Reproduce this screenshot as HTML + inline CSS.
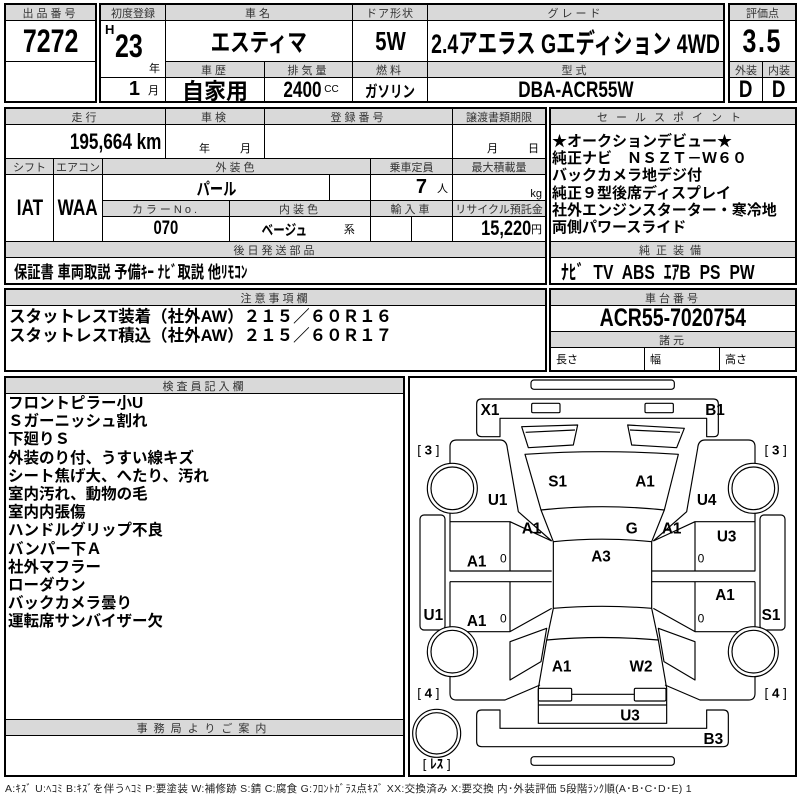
<!DOCTYPE html>
<html><head><meta charset="utf-8">
<style>
body{margin:0;width:800px;height:800px;background:#fff;position:relative;overflow:hidden;font-family:"Liberation Sans","Noto Sans CJK JP",sans-serif;}
.c{position:absolute;box-sizing:border-box;border:1px solid #000;display:flex;align-items:center;justify-content:center;white-space:nowrap;color:#000;}
.h{background:#d9d9d9;font-size:11px;color:#333;letter-spacing:3px;}
.o{position:absolute;box-sizing:border-box;border:2px solid #000;}
.b{font-weight:bold;font-family:"Liberation Sans Narrow","Liberation Sans","Noto Sans CJK JP",sans-serif;}
.t{position:absolute;white-space:nowrap;font-weight:bold;}
.n{display:inline-block;transform:scaleX(.78);}
.nl{display:inline-block;transform:scaleX(.78);transform-origin:left center;}
.nr{display:inline-block;transform:scaleX(.78);transform-origin:right center;}
</style></head><body>

<div class="c h" style="left:5px;top:4px;width:91px;height:17px">出品番号</div>
<div class="c b" style="left:5px;top:20px;width:91px;height:42px;font-size:32px;"><span class="n">7272</span></div>
<div class="c" style="left:5px;top:61px;width:91px;height:41px"></div>
<div class="o" style="left:4px;top:3px;width:93px;height:100px"></div>

<div class="c h" style="left:100px;top:4px;width:66px;height:17px;letter-spacing:0">初度登録</div>
<div class="c h" style="left:165px;top:4px;width:188px;height:17px">車名</div>
<div class="c h" style="left:352px;top:4px;width:76px;height:17px;letter-spacing:1px">ドア形状</div>
<div class="c h" style="left:427px;top:4px;width:297px;height:17px">グレード</div>
<div class="c" style="left:100px;top:20px;width:66px;height:58px"></div>
<div class="t b" style="left:105px;top:22px;font-size:13px">H</div>
<div class="t b" style="left:115px;top:28px;font-size:32px"><span class="nl">23</span></div>
<div class="t" style="left:149px;top:60px;font-size:11px;font-weight:normal">年</div>
<div class="c" style="left:100px;top:77px;width:66px;height:25px;justify-content:flex-end;padding-right:6px"><span class="b" style="font-size:20px">1</span><span style="font-size:11px;margin-left:8px">月</span></div>
<div class="c b" style="left:165px;top:20px;width:188px;height:42px;font-size:25px"><span class="n">エスティマ</span></div>
<div class="c b" style="left:352px;top:20px;width:76px;height:42px;font-size:26px"><span class="n">5W</span></div>
<div class="c b" style="left:427px;top:20px;width:297px;height:42px;font-size:27px;"><span class="n" style="transform:scaleX(.72)">2.4アエラス Gエディション 4WD</span></div>
<div class="c h" style="left:165px;top:61px;width:100px;height:17px">車歴</div>
<div class="c h" style="left:264px;top:61px;width:89px;height:17px">排気量</div>
<div class="c h" style="left:352px;top:61px;width:76px;height:17px">燃料</div>
<div class="c h" style="left:427px;top:61px;width:297px;height:17px">型式</div>
<div class="c b" style="left:165px;top:77px;width:100px;height:25px;font-size:22px">自家用</div>
<div class="c" style="left:264px;top:77px;width:89px;height:25px"><span class="b n" style="font-size:22px;margin-right:-6px">2400</span><span style="font-size:10px;margin-left:3px">CC</span></div>
<div class="c b" style="left:352px;top:77px;width:76px;height:25px;font-size:16px"><span class="n">ガソリン</span></div>
<div class="c b" style="left:427px;top:77px;width:297px;height:25px;font-size:22px"><span class="n">DBA-ACR55W</span></div>
<div class="o" style="left:99px;top:3px;width:626px;height:100px"></div>

<div class="c h" style="left:729px;top:4px;width:67px;height:17px;letter-spacing:0">評価点</div>
<div class="c b" style="left:729px;top:20px;width:67px;height:42px;font-size:32px;letter-spacing:2px"><span class="n">3.5</span></div>
<div class="c h" style="left:729px;top:61px;width:34px;height:17px;letter-spacing:0">外装</div>
<div class="c h" style="left:762px;top:61px;width:34px;height:17px;letter-spacing:0">内装</div>
<div class="c b" style="left:729px;top:77px;width:34px;height:25px;font-size:24px"><span class="n">D</span></div>
<div class="c b" style="left:762px;top:77px;width:34px;height:25px;font-size:24px"><span class="n">D</span></div>
<div class="o" style="left:728px;top:3px;width:69px;height:100px"></div>

<div class="c h" style="left:5px;top:108px;width:161px;height:17px">走行</div>
<div class="c h" style="left:165px;top:108px;width:100px;height:17px">車検</div>
<div class="c h" style="left:264px;top:108px;width:189px;height:17px">登録番号</div>
<div class="c h" style="left:452px;top:108px;width:94px;height:17px;letter-spacing:0">譲渡書類期限</div>
<div class="c" style="left:5px;top:124px;width:161px;height:35px;justify-content:flex-end;padding-right:4px"><span class="b nr" style="font-size:22px">195,664 km</span></div>
<div class="c" style="left:165px;top:124px;width:100px;height:35px;align-items:flex-end;font-size:11px;padding-bottom:2px"><span style="margin-left:20px">年</span><span style="margin-left:30px">月</span></div>
<div class="c" style="left:264px;top:124px;width:189px;height:35px"></div>
<div class="c" style="left:452px;top:124px;width:94px;height:35px;align-items:flex-end;justify-content:flex-end;font-size:11px;padding:0 6px 2px 0">月<span style="margin-left:30px">日</span></div>
<div class="c h" style="left:5px;top:158px;width:49px;height:17px;letter-spacing:0">シフト</div>
<div class="c h" style="left:53px;top:158px;width:50px;height:17px;letter-spacing:0">エアコン</div>
<div class="c h" style="left:102px;top:158px;width:269px;height:17px">外装色</div>
<div class="c h" style="left:370px;top:158px;width:83px;height:17px;letter-spacing:0">乗車定員</div>
<div class="c h" style="left:452px;top:158px;width:94px;height:17px;letter-spacing:0">最大積載量</div>
<div class="c b" style="left:5px;top:174px;width:49px;height:68px;font-size:22px"><span class="n">IAT</span></div>
<div class="c b" style="left:53px;top:174px;width:50px;height:68px;font-size:22px"><span class="n">WAA</span></div>
<div class="c b" style="left:102px;top:174px;width:228px;height:27px;font-size:17px"><span class="n">パール</span></div>
<div class="c" style="left:329px;top:174px;width:42px;height:27px"></div>
<div class="c" style="left:370px;top:174px;width:83px;height:27px;justify-content:flex-end;padding-right:4px"><span class="b" style="font-size:20px">7</span><span style="font-size:11px;margin-left:10px">人</span></div>
<div class="c" style="left:452px;top:174px;width:94px;height:27px;justify-content:flex-end;padding-right:3px;font-size:11px;align-items:flex-end">kg</div>
<div class="c h" style="left:102px;top:200px;width:128px;height:17px">カラーNo.</div>
<div class="c h" style="left:229px;top:200px;width:142px;height:17px">内装色</div>
<div class="c h" style="left:370px;top:200px;width:83px;height:17px">輸入車</div>
<div class="c h" style="left:452px;top:200px;width:94px;height:17px;letter-spacing:0">リサイクル預託金</div>
<div class="c b" style="left:102px;top:216px;width:128px;height:26px;font-size:19px"><span class="n">070</span></div>
<div class="c" style="left:229px;top:216px;width:142px;height:26px"><span class="b n" style="font-size:15px;margin-left:10px">ベージュ</span><span style="font-size:11px;margin-left:30px">系</span></div>
<div class="c" style="left:370px;top:216px;width:42px;height:26px"></div>
<div class="c" style="left:411px;top:216px;width:42px;height:26px"></div>
<div class="c" style="left:452px;top:216px;width:94px;height:26px;justify-content:flex-end;padding-right:3px"><span class="b nr" style="font-size:21px">15,220</span><span style="font-size:11px">円</span></div>
<div class="c h" style="left:5px;top:241px;width:541px;height:17px">後日発送部品</div>
<div class="c b" style="left:5px;top:257px;width:541px;height:27px;font-size:17px;justify-content:flex-start;padding-left:8px"><span class="nl">保証書 車両取説 予備ｷｰ ﾅﾋﾞ取説 他ﾘﾓｺﾝ</span></div>
<div class="o" style="left:4px;top:107px;width:543px;height:178px"></div>

<div class="c h" style="left:550px;top:108px;width:246px;height:17px;letter-spacing:8px">セールスポイント</div>
<div class="c" style="left:550px;top:124px;width:246px;height:118px"></div>
<div class="t" style="left:552px;top:133px;font-size:15px;line-height:17.2px">★オークションデビュー★<br>純正ナビ　ＮＳＺＴ－Ｗ６０<br>バックカメラ地デジ付<br>純正９型後席ディスプレイ<br>社外エンジンスターター・寒冷地<br>両側パワースライド</div>
<div class="c h" style="left:550px;top:241px;width:246px;height:17px;letter-spacing:6px">純正装備</div>
<div class="c b" style="left:550px;top:257px;width:246px;height:27px;font-size:20px;justify-content:flex-start;padding-left:10px;word-spacing:6px"><span class="nl">ﾅﾋﾞ TV ABS ｴｱB PS PW</span></div>
<div class="o" style="left:549px;top:107px;width:248px;height:178px"></div>

<div class="c h" style="left:5px;top:289px;width:541px;height:17px">注意事項欄</div>
<div class="c" style="left:5px;top:305px;width:541px;height:66px"></div>
<div class="t" style="left:9px;top:308px;font-size:16.5px;line-height:19px;">スタットレスT装着（社外AW）２１５／６０Ｒ１６<br>スタットレスT積込（社外AW）２１５／６０Ｒ１７</div>
<div class="o" style="left:4px;top:288px;width:543px;height:84px"></div>

<div class="c h" style="left:550px;top:289px;width:246px;height:17px">車台番号</div>
<div class="c b" style="left:550px;top:305px;width:246px;height:27px;font-size:25px"><span class="n">ACR55-7020754</span></div>
<div class="c h" style="left:550px;top:331px;width:246px;height:17px">諸元</div>
<div class="c" style="left:550px;top:347px;width:95px;height:24px;justify-content:flex-start;padding-left:5px;font-size:11px">長さ</div>
<div class="c" style="left:644px;top:347px;width:76px;height:24px;justify-content:flex-start;padding-left:5px;font-size:11px">幅</div>
<div class="c" style="left:719px;top:347px;width:77px;height:24px;justify-content:flex-start;padding-left:5px;font-size:11px">高さ</div>
<div class="o" style="left:549px;top:288px;width:248px;height:84px"></div>

<div class="c h" style="left:5px;top:377px;width:399px;height:17px">検査員記入欄</div>
<div class="c" style="left:5px;top:393px;width:399px;height:327px"></div>
<div class="t" style="left:8px;top:395px;font-size:15.5px;line-height:18.2px">フロントピラー小U<br>Ｓガーニッシュ割れ<br>下廻りＳ<br>外装のり付、うすい線キズ<br>シート焦げ大、へたり、汚れ<br>室内汚れ、動物の毛<br>室内内張傷<br>ハンドルグリップ不良<br>バンパー下Ａ<br>社外マフラー<br>ローダウン<br>バックカメラ曇り<br>運転席サンバイザー欠</div>
<div class="c h" style="left:5px;top:719px;width:399px;height:17px;letter-spacing:6px">事務局よりご案内</div>
<div class="c" style="left:5px;top:735px;width:399px;height:41px"></div>
<div class="o" style="left:4px;top:376px;width:401px;height:401px"></div>

<div class="o" style="left:408px;top:376px;width:389px;height:401px"></div>
<svg style="position:absolute;left:405px;top:375px" width="395" height="420" viewBox="0 0 1185 1260">
<g fill="none" stroke="#000" stroke-width="3.5" stroke-linejoin="round">
<rect x="378" y="15" width="430" height="28" rx="9"/>
<rect x="378" y="1145" width="430" height="26" rx="9"/>
<path d="M230,72 L925,72 Q940,72 940,87 L940,172 Q940,185 927,185 L905,185 L905,130 L285,130 L285,185 L230,185 Q215,185 215,170 L215,87 Q215,72 230,72 Z"/>
<rect x="380" y="85" width="85" height="28" rx="4"/>
<rect x="720" y="85" width="85" height="28" rx="4"/>
<path d="M350,155 L518,150 L505,210 L370,218 Z M362,172 L510,165"/>
<path d="M668,150 L838,160 L815,218 L680,210 Z M675,165 L825,172"/>
<path d="M360,238 Q590,222 820,238 L778,405 Q590,385 408,405 Z"/>
<path d="M408,405 L445,500 Q590,485 740,500 L778,405"/>
<path d="M445,500 L445,700 Q590,688 740,700 L740,500"/>
<path d="M445,700 L425,795 Q590,780 760,795 L740,700"/>
<path d="M425,795 L400,940 L400,1045 L785,1045 L785,940 L760,795"/>
<rect x="400" y="940" width="100" height="38" rx="4"/>
<rect x="688" y="940" width="95" height="38" rx="4"/>
<path d="M500,958 L688,958 M400,990 L785,990"/>
<path d="M230,1005 L285,1005 L285,1060 L905,1060 L905,1005 L955,1005 Q970,1005 970,1020 L970,1100 Q970,1115 955,1115 L230,1115 Q215,1115 215,1100 L215,1020 Q215,1005 230,1005 Z"/>
<path d="M135,272 L135,215 Q135,195 155,195 L285,195 Q305,195 307,220 L340,410 L440,498"/>
<path d="M135,410 L135,440 L315,440 L440,498 M315,440 L315,588 M135,440 L135,588 L440,588 M135,620 L440,620 M135,620 L135,770 L315,770 L440,700 M315,620 L315,770"/>
<rect x="45" y="420" width="75" height="345" rx="12"/>
<path d="M135,900 L135,955 Q135,975 155,975 L300,975 L405,930"/>
<path d="M315,800 L425,760 L408,860 L315,915 Z"/>
<path d="M1050,272 L1050,215 Q1050,195 1030,195 L900,195 Q880,195 878,220 L845,410 L745,498"/>
<path d="M1050,410 L1050,440 L870,440 L745,498 M870,440 L870,588 M1050,440 L1050,588 L740,588 M1050,620 L740,620 M1050,620 L1050,770 L870,770 L745,700 M870,620 L870,770"/>
<rect x="1065" y="420" width="75" height="345" rx="12"/>
<path d="M1050,900 L1050,955 Q1050,975 1030,975 L885,975 L780,930"/>
<path d="M870,800 L760,760 L777,860 L870,915 Z"/>
<circle cx="142" cy="340" r="75" fill="#fff"/><circle cx="142" cy="340" r="64"/>
<circle cx="142" cy="830" r="75" fill="#fff"/><circle cx="142" cy="830" r="64"/>
<circle cx="1045" cy="340" r="75" fill="#fff"/><circle cx="1045" cy="340" r="64"/>
<circle cx="1045" cy="830" r="75" fill="#fff"/><circle cx="1045" cy="830" r="64"/>
<circle cx="95" cy="1075" r="72"/><circle cx="95" cy="1075" r="62"/>
</g>
<g font-family="Liberation Sans, sans-serif" font-weight="bold" font-size="46" text-anchor="middle" fill="#000">
<text x="255" y="120">X1</text><text x="930" y="120">B1</text>
<text x="458" y="335">S1</text><text x="720" y="335">A1</text>
<text x="278" y="390">U1</text><text x="905" y="390">U4</text>
<text x="380" y="475">A1</text><text x="680" y="475">G</text><text x="800" y="475">A1</text>
<text x="965" y="500">U3</text>
<text x="215" y="575">A1</text><text x="588" y="560">A3</text>
<text x="960" y="675">A1</text>
<text x="85" y="735">U1</text><text x="215" y="753">A1</text><text x="1098" y="735">S1</text>
<text x="470" y="890">A1</text><text x="708" y="890">W2</text>
<text x="675" y="1037">U3</text><text x="925" y="1107">B3</text>
</g>
<g font-family="Liberation Sans, sans-serif" font-size="36" text-anchor="middle" fill="#000">
<text x="295" y="562">0</text><text x="888" y="562">0</text>
<text x="295" y="742">0</text><text x="888" y="742">0</text>
</g>
<g font-family="Liberation Sans, Noto Sans CJK JP, sans-serif" font-size="40" text-anchor="middle" fill="#000">
<text x="70" y="238">[ <tspan font-weight="bold">3</tspan> ]</text>
<text x="1112" y="238">[ <tspan font-weight="bold">3</tspan> ]</text>
<text x="70" y="968">[ <tspan font-weight="bold">4</tspan> ]</text>
<text x="1112" y="968">[ <tspan font-weight="bold">4</tspan> ]</text>
<text x="95" y="1180">[ <tspan font-weight="bold">ﾚｽ</tspan> ]</text>
</g>
</svg>

<div class="t" style="left:5px;top:781px;font-size:10.5px;font-weight:normal;color:#222;letter-spacing:0.3px">A:ｷｽﾞ U:ﾍｺﾐ B:ｷｽﾞを伴うﾍｺﾐ P:要塗装 W:補修跡 S:錆 C:腐食 G:ﾌﾛﾝﾄｶﾞﾗｽ点ｷｽﾞ XX:交換済み X:要交換 内･外装評価 5段階ﾗﾝｸ順(A･B･C･D･E) 1</div>
</body></html>
